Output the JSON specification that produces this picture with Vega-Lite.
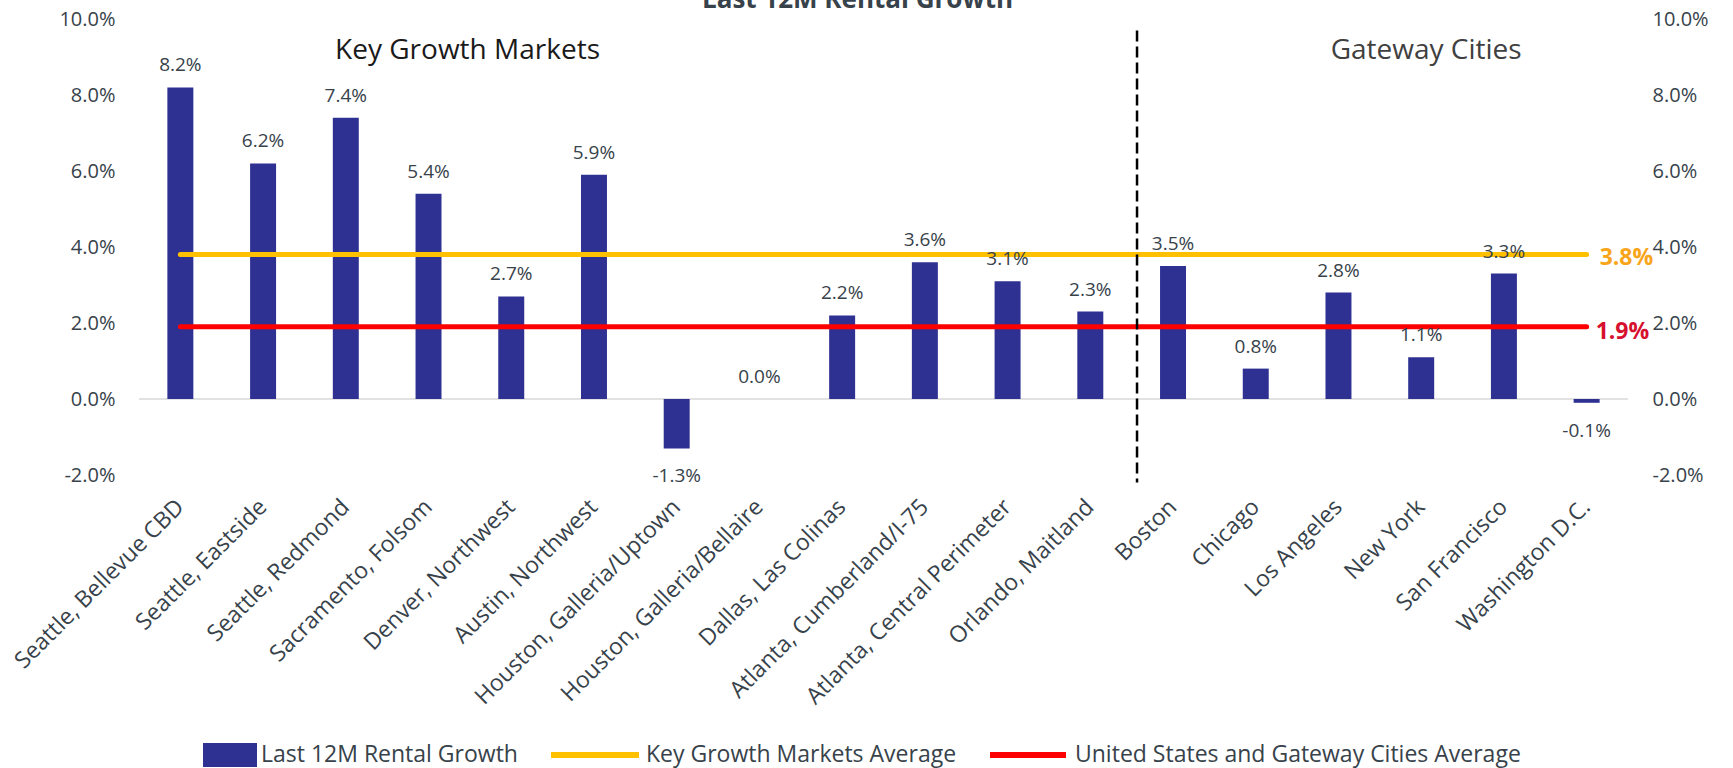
{
  "$schema": "https://vega.github.io/schema/vega-lite/v6.json",
  "width": 1489,
  "height": 456,
  "autosize": "none",
  "padding": {"left": 139, "top": 19, "right": 105, "bottom": 293},
  "background": "white",
  "title": {"text": "Last 12M Rental Growth", "fontSize": 26, "fontWeight": "bold", "color": "#37424a", "anchor": "middle", "frame": "group", "offset": 0, "dy": 25, "baseline": "alphabetic", "dx": -26},
  "data": {"values": [
    {"category": "Seattle, Bellevue CBD", "growth": 0.082, "keyAvg": 0.038, "usAvg": 0.019},
    {"category": "Seattle, Eastside", "growth": 0.062, "keyAvg": 0.038, "usAvg": 0.019},
    {"category": "Seattle, Redmond", "growth": 0.074, "keyAvg": 0.038, "usAvg": 0.019},
    {"category": "Sacramento, Folsom", "growth": 0.054, "keyAvg": 0.038, "usAvg": 0.019},
    {"category": "Denver, Northwest", "growth": 0.027, "keyAvg": 0.038, "usAvg": 0.019},
    {"category": "Austin, Northwest", "growth": 0.059, "keyAvg": 0.038, "usAvg": 0.019},
    {"category": "Houston, Galleria/Uptown", "growth": -0.013, "keyAvg": 0.038, "usAvg": 0.019},
    {"category": "Houston, Galleria/Bellaire", "growth": 0.0, "keyAvg": 0.038, "usAvg": 0.019},
    {"category": "Dallas, Las Colinas", "growth": 0.022, "keyAvg": 0.038, "usAvg": 0.019},
    {"category": "Atlanta, Cumberland/I-75", "growth": 0.036, "keyAvg": 0.038, "usAvg": 0.019},
    {"category": "Atlanta, Central Perimeter", "growth": 0.031, "keyAvg": 0.038, "usAvg": 0.019},
    {"category": "Orlando, Maitland", "growth": 0.023, "keyAvg": 0.038, "usAvg": 0.019},
    {"category": "Boston", "growth": 0.035, "keyAvg": 0.038, "usAvg": 0.019},
    {"category": "Chicago", "growth": 0.008, "keyAvg": 0.038, "usAvg": 0.019},
    {"category": "Los Angeles", "growth": 0.028, "keyAvg": 0.038, "usAvg": 0.019},
    {"category": "New York", "growth": 0.011, "keyAvg": 0.038, "usAvg": 0.019},
    {"category": "San Francisco", "growth": 0.033, "keyAvg": 0.038, "usAvg": 0.019},
    {"category": "Washington D.C.", "growth": -0.001, "keyAvg": 0.038, "usAvg": 0.019}
  ]},
  "layer": [
    {
      "data": {"values": [{"zero": 0}]},
      "mark": {"type": "rule", "color": "#d9d9d9", "strokeWidth": 1.5},
      "encoding": {
        "y": {"field": "zero", "type": "quantitative", "scale": {"domain": [-0.02, 0.1], "nice": false, "zero": false}, "axis": null}
      }
    },
    {
      "mark": {"type": "bar", "color": "#2e3192"},
      "encoding": {
        "x": {"field": "category", "type": "nominal", "sort": null,
          "scale": {"domain": ["Seattle, Bellevue CBD", "Seattle, Eastside", "Seattle, Redmond", "Sacramento, Folsom", "Denver, Northwest", "Austin, Northwest", "Houston, Galleria/Uptown", "Houston, Galleria/Bellaire", "Dallas, Las Colinas", "Atlanta, Cumberland/I-75", "Atlanta, Central Perimeter", "Orlando, Maitland", "Boston", "Chicago", "Los Angeles", "New York", "San Francisco", "Washington D.C."], "paddingInner": 0.686, "paddingOuter": 0.343},
          "axis": {"title": null, "labelAngle": -45, "labelAlign": "right", "labelBaseline": "middle", "labelPadding": 28, "labelLimit": 400, "labelFontSize": 23}},
        "y": {"field": "growth", "type": "quantitative", "scale": {"domain": [-0.02, 0.1], "nice": false, "zero": false},
          "axis": {"title": null, "orient": "left", "values": [-0.02, 0, 0.02, 0.04, 0.06, 0.08, 0.1], "format": ".1%", "labelPadding": 24}},
        "color": {"datum": "Last 12M Rental Growth", "type": "nominal",
          "scale": {"domain": ["Last 12M Rental Growth", "Key Growth Markets Average", "United States and Gateway Cities Average"], "range": ["#2e3192", "#ffc000", "#ff0000"]},
          "legend": {
            "title": null, "orient": "none", "legendX": 32, "legendY": 693, "direction": "horizontal",
            "symbolSize": 6400, "symbolStrokeWidth": 6, "labelFont": "Open Sans", "labelFontSize": 23, "labelColor": "#37424a",
            "labelOffset": 4, "columnPadding": 21, "labelLimit": 600,
            "encode": {"symbols": {"update": {
              "shape": {"signal": "datum.value === 'Last 12M Rental Growth' ? 'M-0.2,-0.225H1V0.225H-0.2Z' : (datum.value === 'Key Growth Markets Average' ? 'M-1.2,-0.225M-1.2,0H1M1,0.225' : 'M-0.95,-0.225M-0.95,0H0.95M0.95,0.225')"},
              "fill": {"signal": "datum.value === 'Last 12M Rental Growth' ? '#2e3192' : 'transparent'"},
              "stroke": {"signal": "datum.value === 'Last 12M Rental Growth' ? 'transparent' : (datum.value === 'Key Growth Markets Average' ? '#ffc000' : '#ff0000')"},
              "strokeWidth": {"value": 6},
              "opacity": {"value": 1}
            }}}
          }}
      }
    },
    {
      "mark": {"type": "line", "strokeWidth": 5, "strokeCap": "round"},
      "encoding": {
        "x": {"field": "category", "type": "nominal", "sort": null},
        "y": {"field": "keyAvg", "type": "quantitative", "scale": {"domain": [-0.02, 0.1], "nice": false, "zero": false},
          "axis": {"title": null, "orient": "right", "values": [-0.02, 0, 0.02, 0.04, 0.06, 0.08, 0.1], "format": ".1%", "labelPadding": 24}},
        "color": {"datum": "Key Growth Markets Average", "type": "nominal"}
      }
    },
    {
      "mark": {"type": "line", "strokeWidth": 5, "strokeCap": "round"},
      "encoding": {
        "x": {"field": "category", "type": "nominal", "sort": null},
        "y": {"field": "usAvg", "type": "quantitative", "scale": {"domain": [-0.02, 0.1], "nice": false, "zero": false}, "axis": null},
        "color": {"datum": "United States and Gateway Cities Average", "type": "nominal"}
      }
    },
    {
      "data": {"values": [{"category": "Boston", "top": 0.097, "bottom": -0.022}]},
      "mark": {"type": "rule", "color": "#000000", "strokeWidth": 2.5, "strokeDash": [11, 5], "xOffset": -36},
      "encoding": {
        "x": {"field": "category", "type": "nominal", "sort": null, "bandPosition": 0.5},
        "y": {"field": "top", "type": "quantitative", "scale": {"domain": [-0.02, 0.1], "nice": false, "zero": false}, "axis": null},
        "y2": {"field": "bottom"}
      }
    },
    {
      "transform": [{"filter": "datum.growth >= 0"}],
      "mark": {"type": "text", "baseline": "alphabetic", "dy": -16, "fontSize": 19, "color": "#37424a"},
      "encoding": {
        "x": {"field": "category", "type": "nominal", "sort": null},
        "y": {"field": "growth", "type": "quantitative", "scale": {"domain": [-0.02, 0.1], "nice": false, "zero": false}, "axis": null},
        "text": {"field": "growth", "type": "quantitative", "format": ".1%"}
      }
    },
    {
      "transform": [{"filter": "datum.growth < 0"}],
      "mark": {"type": "text", "baseline": "alphabetic", "dy": 34, "fontSize": 19, "color": "#37424a"},
      "encoding": {
        "x": {"field": "category", "type": "nominal", "sort": null},
        "y": {"field": "growth", "type": "quantitative", "scale": {"domain": [-0.02, 0.1], "nice": false, "zero": false}, "axis": null},
        "text": {"field": "growth", "type": "quantitative", "format": ".1%"}
      }
    },
    {
      "transform": [{"filter": "datum.category === 'Washington D.C.'"}],
      "mark": {"type": "text", "align": "left", "baseline": "middle", "dx": 13, "dy": 3, "fontSize": 23, "fontWeight": "bold", "color": "#f9a51a"},
      "encoding": {
        "x": {"field": "category", "type": "nominal", "sort": null},
        "y": {"field": "keyAvg", "type": "quantitative", "scale": {"domain": [-0.02, 0.1], "nice": false, "zero": false}, "axis": null},
        "text": {"field": "keyAvg", "type": "quantitative", "format": ".1%"}
      }
    },
    {
      "transform": [{"filter": "datum.category === 'Washington D.C.'"}],
      "mark": {"type": "text", "align": "left", "baseline": "middle", "dx": 9, "dy": 5, "fontSize": 23, "fontWeight": "bold", "color": "#d6112f"},
      "encoding": {
        "x": {"field": "category", "type": "nominal", "sort": null},
        "y": {"field": "usAvg", "type": "quantitative", "scale": {"domain": [-0.02, 0.1], "nice": false, "zero": false}, "axis": null},
        "text": {"field": "usAvg", "type": "quantitative", "format": ".1%"}
      }
    },
    {
      "data": {"values": [{"category": "Sacramento, Folsom", "pos": 0.0915, "label": "Key Growth Markets"}]},
      "mark": {"type": "text", "align": "center", "baseline": "middle", "dx": 39, "fontSize": 28, "color": "#1a1a1a"},
      "encoding": {
        "x": {"field": "category", "type": "nominal", "sort": null},
        "y": {"field": "pos", "type": "quantitative", "scale": {"domain": [-0.02, 0.1], "nice": false, "zero": false}, "axis": null},
        "text": {"field": "label"}
      }
    },
    {
      "data": {"values": [{"category": "New York", "pos": 0.0915, "label": "Gateway Cities"}]},
      "mark": {"type": "text", "align": "center", "baseline": "middle", "dx": 5, "fontSize": 28, "color": "#404040"},
      "encoding": {
        "x": {"field": "category", "type": "nominal", "sort": null},
        "y": {"field": "pos", "type": "quantitative", "scale": {"domain": [-0.02, 0.1], "nice": false, "zero": false}, "axis": null},
        "text": {"field": "label"}
      }
    }
  ],
  "resolve": {"scale": {"y": "independent"}},
  "config": {
    "font": "Open Sans",
    "view": {"stroke": null},
    "axis": {"grid": false, "domain": false, "ticks": false, "labelFont": "Open Sans", "labelFontSize": 20, "labelColor": "#37424a"},
    "locale": {"number": {"decimal": ".", "thousands": ",", "grouping": [3], "currency": ["$", ""], "minus": "-"}}
  }
}
